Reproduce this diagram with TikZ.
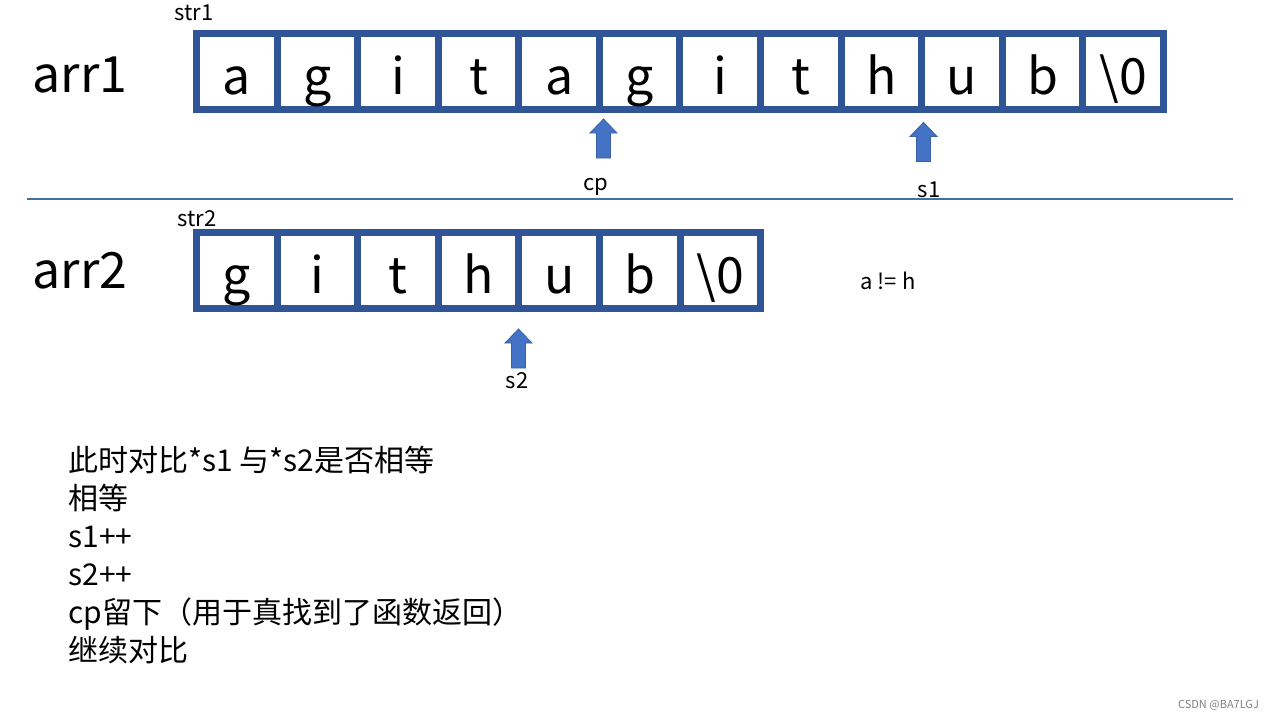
\documentclass[tikz,border=0pt]{standalone}
\usepackage{fontspec}
\setmainfont{Noto Sans CJK SC}
\definecolor{cellblue}{HTML}{2F5597}
\definecolor{arrowblue}{HTML}{4472C4}
\definecolor{rulecol}{HTML}{41719C}
\tikzset{
	cell/.style={draw=cellblue,line width=3.5pt,minimum width=40.3pt,minimum height=38pt,inner sep=0pt,text height=29pt,text depth=5.8pt,font=\fontsize{25}{25}\selectfont},
	ptr/.pic={\filldraw[fill=arrowblue,draw=arrowblue!85!black,line width=0.4pt]
		(0,-19.5) -- (13.5,-5.5) -- (7,-5.5) -- (7,19.5) -- (-7,19.5) -- (-7,-5.5) -- (-13.5,-5.5) -- cycle;},
	small/.style={font=\fontsize{11}{11}\selectfont},
	big/.style={font=\fontsize{25}{25}\selectfont}
}
\begin{document}
\begin{tikzpicture}[x=0.5pt,y=-0.5pt]
	\useasboundingbox[fill=white] (0,0) rectangle (1280,720);
	% array 1
	\node[big] (arr1) at (80,75) {arr1};
	\node[small] (str1) at (194,13) {str1};
	\foreach \ch [count=\i from 0] in {a,g,i,t,a,g,i,t,h,u,b,\textbackslash 0}
		\node[cell] (s1c\i) at (196.5+80.58*\i+40.29,71.75) {\ch};
	% array 2
	\node[big] (arr2) at (80,271) {arr2};
	\node[small] (str2) at (197,219) {str2};
	\foreach \ch [count=\i from 0] in {g,i,t,h,u,b,\textbackslash 0}
		\node[cell] (s2c\i) at (196.5+80.6*\i+40.3,270.75) {\ch};
	% separator
	\draw[rulecol,line width=0.6pt] (27,199) -- (1233,199);
	% pointers
	\pic (cparr) at (603.5,138.5) {ptr};
	\pic (s1arr) at (923.5,142) {ptr};
	\pic (s2arr) at (518.5,348.5) {ptr};
	\node[small] (cp) at (596,187) {cp};
	\node[small] (s1) at (929,190) {s1};
	\node[small] (s2) at (517,381) {s2};
	\node[small] (neq) at (888,281) {a != h};
	% notes
	\node[anchor=west,align=left,inner sep=0pt,font=\fontsize{15}{19}\selectfont] (notes) at (68,555) {此时对比*s1 与*s2是否相等\\相等\\s1++\\s2++\\cp留下（用于真找到了函数返回）\\继续对比};
	\node[anchor=east,text=gray,font=\fontsize{5.5}{6}\selectfont] (mark) at (1266,705) {CSDN @BA7LGJ};
\end{tikzpicture}
\end{document}
